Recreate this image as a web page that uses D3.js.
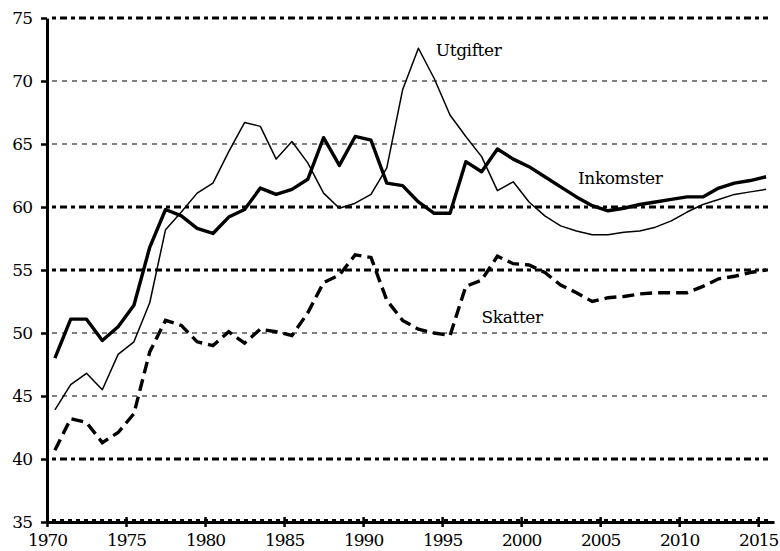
<!DOCTYPE html>
<html>
<head>
<meta charset="utf-8">
<script src="https://cdn.jsdelivr.net/npm/d3@7"></script>
<style>
  body { margin: 0; background: #fff; }
  svg text { font-family: 'DejaVu Serif', 'Noto Serif', serif; }
</style>
</head>
<body>
<div id="chart"></div>
<script>
const years = d3.range(1970, 2016);

const inkomster = [48.0,51.1,51.1,49.4,50.5,52.2,56.8,59.8,59.3,58.3,
                   57.9,59.2,59.8,61.5,61.0,61.4,62.2,65.5,63.3,65.6,
                   65.3,61.9,61.7,60.4,59.5,59.5,63.6,62.8,64.6,63.8,
                   63.2,62.4,61.6,60.8,60.1,59.7,59.9,60.2,60.4,60.6,
                   60.8,60.8,61.5,61.9,62.1,62.4];

const utgifter = [43.9,45.9,46.8,45.5,48.3,49.3,52.4,58.2,59.6,61.1,
                  61.9,64.4,66.7,66.4,63.8,65.2,63.5,61.1,59.9,60.3,
                  61.0,63.1,69.3,72.6,70.2,67.3,65.6,64.0,61.3,62.0,
                  60.4,59.3,58.5,58.1,57.8,57.8,58.0,58.1,58.4,58.9,
                  59.6,60.2,60.6,61.0,61.2,61.4];

const skatter = [40.7,43.2,42.9,41.3,42.1,43.6,48.5,51.0,50.6,49.3,
                 49.0,50.1,49.2,50.3,50.1,49.8,51.6,54.0,54.6,56.2,
                 56.0,52.6,51.0,50.3,50.0,49.8,53.7,54.2,56.1,55.5,
                 55.4,54.8,53.8,53.2,52.5,52.8,52.9,53.1,53.2,53.2,
                 53.2,53.7,54.3,54.5,54.8,55.0];

const yTicks = [35, 40, 45, 50, 55, 60, 65, 70, 75];
const xTicks = [1970, 1975, 1980, 1985, 1990, 1995, 2000, 2005, 2010, 2015];

const labels = [
  {text: 'Utgifter', year: 1994.6, value: 72.0},
  {text: 'Inkomster', year: 2003.6, value: 61.8},
  {text: 'Skatter', year: 1997.5, value: 50.8}
];

const serif = "'DejaVu Serif', 'Noto Serif', serif";
const width = 780, height = 551;
const svg = d3.select('#chart').append('svg').attr('width', width).attr('height', height);

const x = d3.scaleLinear().domain([1970, 2016]).range([47, 774]);
const y = d3.scaleLinear().domain([35, 75]).range([522, 18]);

// gridlines
const heavy = [40, 55, 60, 75];
svg.append('g').selectAll('line').data(yTicks.filter(d => d > 35)).join('line')
   .attr('x1', 52).attr('x2', 768)
   .attr('y1', d => y(d)).attr('y2', d => y(d))
   .attr('stroke', '#000')
   .attr('stroke-width', d => heavy.includes(d) ? 3 : 1)
   .attr('stroke-dasharray', d => heavy.includes(d) ? '4,4,7,4' : '5,5');

// dotted line just above the x axis
svg.append('line')
   .attr('x1', 52).attr('x2', 768)
   .attr('y1', y(35) - 2).attr('y2', y(35) - 2)
   .attr('stroke', '#000').attr('stroke-width', 2)
   .attr('stroke-dasharray', '4,4');

// axes
const yAxis = svg.append('g').attr('transform', `translate(${x(1970)},0)`)
   .call(d3.axisLeft(y).tickValues(yTicks).tickSize(6).tickSizeOuter(0).tickPadding(9));
const xAxis = svg.append('g').attr('transform', `translate(0,${y(35)})`)
   .call(d3.axisBottom(x).tickValues(xTicks).tickFormat(d3.format('d')).tickSize(5).tickSizeOuter(0).tickPadding(7));

[yAxis, xAxis].forEach(g => {
  g.attr('font-family', serif).attr('font-size', 17);
  g.select('.domain').attr('stroke-width', 3);
  g.selectAll('.tick line').attr('stroke-width', 2.5);
  g.selectAll('.tick text').attr('fill', '#000')
   .style('font-family', serif).style('font-size', '17px').style('letter-spacing', '-1px');
});
xAxis.selectAll('.tick line').attr('y1', -5);

// series
const line = d3.line().x((d, i) => x(years[i] + 0.5)).y(d => y(d));

svg.append('path').datum(utgifter)
   .attr('fill', 'none').attr('stroke', '#000').attr('stroke-width', 1.5)
   .attr('stroke-linejoin', 'round').attr('d', line);

svg.append('path').datum(inkomster)
   .attr('fill', 'none').attr('stroke', '#000').attr('stroke-width', 3.4)
   .attr('stroke-linejoin', 'round').attr('d', line);

svg.append('path').datum(skatter)
   .attr('fill', 'none').attr('stroke', '#000').attr('stroke-width', 3.4)
   .attr('stroke-dasharray', '12,6').attr('d', line);

// series labels
svg.append('g').selectAll('text').data(labels).join('text')
   .attr('x', d => x(d.year)).attr('y', d => y(d.value))
   .attr('fill', '#000')
   .style('font-family', serif).style('font-size', '17px').style('letter-spacing', '-0.4px')
   .text(d => d.text);
</script>
</body>
</html>
